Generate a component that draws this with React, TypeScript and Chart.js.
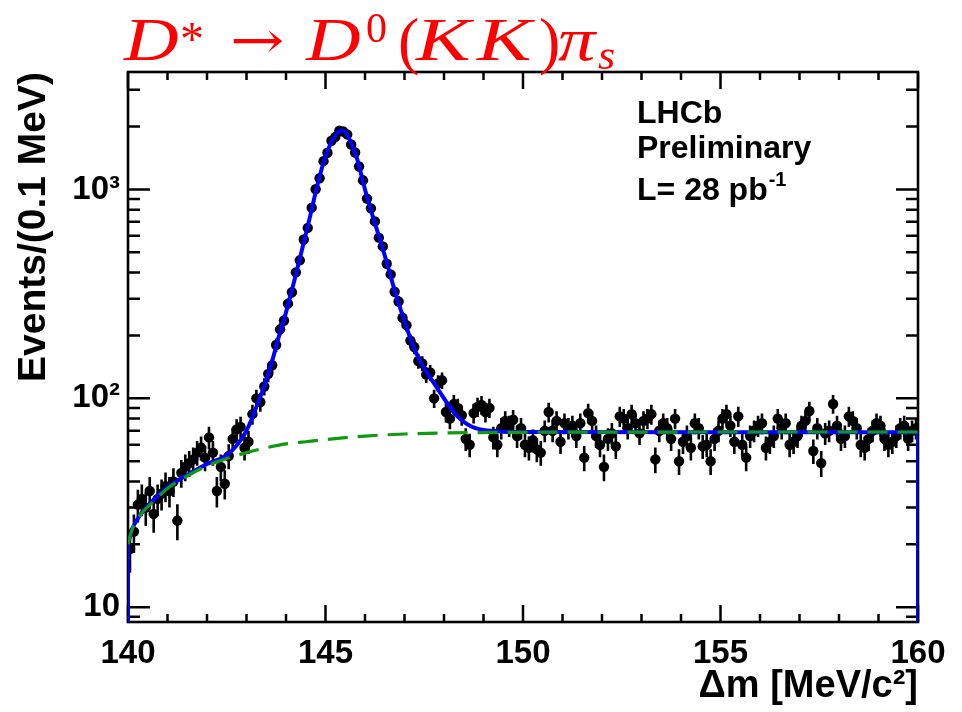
import React, { useEffect, useRef } from 'react';
import { Chart, registerables } from 'chart.js';

Chart.register(...registerables);

// ---------------- data ----------------
const X_MIN = 140;
const X_MAX = 160;
const BIN_WIDTH = 0.1;
const Y_MIN = 8.5;
const Y_MAX = 3650;

// events per 0.1 MeV bin
const COUNTS_140_145 = [
  19, 23, 31, 33, 30, 36, 28, 33, 35, 38,
  36, 40, 26, 44, 47, 49, 51, 55, 58, 52,
  65, 55, 36, 47, 39, 53, 64, 71, 73, 58,
  62, 84, 100, 96, 114, 131, 144, 180, 214, 236,
  284, 322, 401, 458, 576, 655, 818, 1002, 1132, 1366,
];
const COUNTS_145_150 = [
  1498, 1710, 1786, 1912, 1893, 1834, 1642, 1503, 1288, 1106,
  904, 812, 703, 588, 534, 441, 392, 324, 291, 243,
  224, 189, 176, 151, 147, 130, 133, 100, 118, 122,
  86, 80, 94, 90, 83, 64, 60, 85, 91, 93,
  86, 90, 65, 60, 72, 78, 74, 79, 66, 72,
];
const COUNTS_150_155 = [
  60, 58, 63, 57, 55, 70, 86, 70, 78, 62,
  76, 72, 74, 66, 76, 52, 85, 78, 66, 60,
  47, 64, 68, 59, 82, 80, 72, 84, 76, 68,
  78, 80, 84, 51, 70, 76, 72, 64, 80, 50,
  62, 66, 58, 76, 72, 59, 60, 50, 64, 70,
];
const COUNTS_155_160 = [
  80, 84, 74, 62, 82, 60, 52, 66, 70, 74,
  76, 58, 62, 66, 80, 72, 76, 60, 62, 66,
  74, 78, 87, 56, 72, 49, 68, 70, 94, 74,
  64, 66, 82, 78, 72, 60, 58, 64, 70, 76,
  74, 64, 60, 62, 66, 72, 74, 64, 70, 72,
];
const COUNTS = [...COUNTS_140_145, ...COUNTS_145_150, ...COUNTS_150_155, ...COUNTS_155_160];
const BIN_CENTERS = COUNTS.map((_, i) => +(X_MIN + BIN_WIDTH * (i + 0.5)).toFixed(2));

// total fit (blue)
const FIT_X = [
  140.0, 140.1, 140.3, 140.6, 141.0, 141.5, 142.0, 142.5, 142.75, 143.0,
  143.2, 143.4, 143.6, 143.8, 144.0, 144.2, 144.4, 144.6, 144.8, 145.0,
  145.2, 145.4, 145.5, 145.6, 145.8, 146.0, 146.2, 146.4, 146.6, 146.8,
  147.0, 147.2, 147.4, 147.6, 147.8, 148.0, 148.2, 148.4, 148.6, 148.8,
  149.0, 149.5, 150.0, 155.0, 160.0,
];
const FIT_Y = [
  20, 23.5, 27.5, 32, 37.5, 43, 48.5, 53.5, 59.5, 70,
  86, 108, 140, 192, 258, 360, 510, 730, 1060, 1440,
  1750, 1920, 1880, 1750, 1400, 1000, 740, 560, 415, 305,
  235, 182, 150, 130, 114, 100, 88, 80, 75, 72,
  70.5, 69.3, 69, 68.8, 68.8,
];

// background component (green dashed)
const BKG_X = [140.0, 140.1, 140.3, 140.6, 141.0, 141.5, 142.0, 142.5, 143.0, 143.5, 144.0, 144.5, 145.0, 146.0, 147.0, 148.0, 150.0, 155.0, 160.0];
const BKG_Y = [20, 23.5, 27.5, 31.5, 37, 42.5, 47.5, 51.5, 55, 58, 60.5, 62, 63.5, 66, 67.5, 68.3, 68.8, 69, 69];

const X_TICKS = [140, 145, 150, 155, 160];
const X_TICK_LABELS = ['140', '145', '150', '155', '160'];
const Y_TICKS = [10, 100, 1000];
const Y_TICK_LABELS = ['10', '10\u00B2', '10\u00B3'];

const TITLE_Y = 'Events/(0.1 MeV)';
const TITLE_X = '\u0394m [MeV/c\u00B2]';
const INFO_LINES = ['LHCb', 'Preliminary', 'L= 28 pb'];
const INFO_SUP = '-1';

// ---------------- styles ----------------
const SANS = '"Liberation Sans", Arial, Helvetica, sans-serif';
const SERIF = '"Liberation Serif", "DejaVu Serif", serif';
const DSERIF = '"DejaVu Serif", "Liberation Serif", serif';
const BLUE = '#0000ff';
const GREEN = '#109a10';
const RED = '#ff0000';

const TITLE_SEGMENTS = [
  { t: 'D', x: 124, size: 62, italic: true, dy: 0, sx: 1.22, fam: SERIF },
  { t: '*', x: 180, size: 48, italic: false, dy: -5, sx: 1, fam: SERIF },
  { t: '\u2192', x: 230, size: 52, italic: false, dy: -2, sx: 1.25, fam: DSERIF },
  { t: 'D', x: 306, size: 62, italic: true, dy: 0, sx: 1.22, fam: SERIF },
  { t: '0', x: 366, size: 42, italic: false, dy: -18, sx: 1, fam: SERIF },
  { t: '(', x: 398, size: 64, italic: false, dy: 2, sx: 1, fam: SERIF },
  { t: 'K', x: 416, size: 62, italic: true, dy: 0, sx: 1.32, fam: SERIF },
  { t: 'K', x: 477, size: 62, italic: true, dy: 0, sx: 1.32, fam: SERIF },
  { t: ')', x: 539, size: 64, italic: false, dy: 2, sx: 1, fam: SERIF },
  { t: '\u03C0', x: 558, size: 62, italic: true, dy: 0, sx: 1.2, fam: SERIF },
  { t: 's', x: 598, size: 42, italic: true, dy: 9, sx: 1.05, fam: SERIF },
];

const rootPlugin = {
  id: 'rootStyle',
  beforeDatasetsDraw(chart: any) {
    const { ctx, chartArea: a, scales } = chart;
    const x = scales.x;
    const y = scales.y;
    ctx.save();
    // frame
    ctx.strokeStyle = '#000';
    ctx.lineWidth = 2.6;
    ctx.strokeRect(a.left, a.top, a.right - a.left, a.bottom - a.top);
    // ticks
    ctx.lineWidth = 2.5;
    ctx.beginPath();
    for (let v = X_MIN; v <= X_MAX; v++) {
      const len = v % 5 === 0 ? 17 : 8;
      const px = x.getPixelForValue(v);
      ctx.moveTo(px, a.bottom);
      ctx.lineTo(px, a.bottom - len);
      ctx.moveTo(px, a.top);
      ctx.lineTo(px, a.top + len);
    }
    for (const dec of [1, 10, 100, 1000]) {
      for (let m = 1; m <= 9; m++) {
        const v = m * dec;
        if (v < Y_MIN || v > Y_MAX) continue;
        const len = m === 1 ? 22 : 12;
        const py = y.getPixelForValue(v);
        ctx.moveTo(a.left, py);
        ctx.lineTo(a.left + len, py);
        ctx.moveTo(a.right, py);
        ctx.lineTo(a.right - len, py);
      }
    }
    ctx.stroke();
    // error bars
    ctx.beginPath();
    ctx.rect(a.left, a.top, a.right - a.left, a.bottom - a.top);
    ctx.clip();
    ctx.lineWidth = 2.6;
    ctx.beginPath();
    COUNTS.forEach((n, i) => {
      const px = x.getPixelForValue(BIN_CENTERS[i]);
      const e = Math.sqrt(n);
      ctx.moveTo(px, y.getPixelForValue(n + e));
      ctx.lineTo(px, y.getPixelForValue(Math.max(n - e, 1)));
    });
    ctx.stroke();
    ctx.restore();
  },
  afterDraw(chart: any) {
    const { ctx } = chart;
    ctx.save();
    // red title
    ctx.fillStyle = RED;
    ctx.textBaseline = 'alphabetic';
    ctx.textAlign = 'left';
    for (const s of TITLE_SEGMENTS) {
      ctx.save();
      ctx.font = `${s.italic ? 'italic ' : ''}${s.size}px ${s.fam}`;
      ctx.translate(s.x, 60 + s.dy);
      ctx.scale(s.sx, 1);
      ctx.fillText(s.t, 0, 0);
      ctx.restore();
    }
    // experiment info
    ctx.fillStyle = '#000';
    ctx.font = `bold 32px ${SANS}`;
    const bx = 637;
    const baselines = [123, 158, 200];
    INFO_LINES.forEach((t, i) => ctx.fillText(t, bx, baselines[i]));
    const w = ctx.measureText(INFO_LINES[2]).width;
    ctx.font = `bold 20px ${SANS}`;
    ctx.fillText(INFO_SUP, bx + w + 1, baselines[2] - 14);
    ctx.restore();
  },
};

export default function App() {
  const ref = useRef<HTMLCanvasElement>(null);
  useEffect(() => {
    if (!ref.current) return;
    const chart = new Chart(ref.current, {
      type: 'scatter',
      data: {
        datasets: [
          {
            label: 'Data',
            data: COUNTS.map((c, i) => ({ x: BIN_CENTERS[i], y: c })),
            showLine: false,
            pointRadius: 5.2,
            pointBackgroundColor: '#000',
            pointBorderWidth: 0,
            order: 3,
          },
          {
            label: 'Fit',
            data: FIT_X.map((v, i) => ({ x: v, y: FIT_Y[i] })),
            showLine: true,
            borderColor: BLUE,
            borderWidth: 4,
            pointRadius: 0,
            cubicInterpolationMode: 'monotone',
            fill: false,
            order: 2,
          },
          {
            label: 'Fit edge low',
            data: [{ x: X_MIN, y: Y_MIN }, { x: X_MIN, y: FIT_Y[0] }],
            showLine: true,
            borderColor: BLUE,
            borderWidth: 4,
            pointRadius: 0,
            order: 2,
          },
          {
            label: 'Fit edge high',
            data: [{ x: X_MAX, y: FIT_Y[FIT_Y.length - 1] }, { x: X_MAX, y: Y_MIN }],
            showLine: true,
            borderColor: BLUE,
            borderWidth: 4,
            pointRadius: 0,
            order: 2,
          },
          {
            label: 'Background',
            data: BKG_X.map((v, i) => ({ x: v, y: BKG_Y[i] })),
            showLine: true,
            borderColor: GREEN,
            borderWidth: 3.2,
            borderDash: [20, 10],
            pointRadius: 0,
            cubicInterpolationMode: 'monotone',
            fill: false,
            order: 1,
          },
        ],
      },
      options: {
        responsive: false,
        animation: false,
        events: [],
        layout: { padding: { left: 0, right: 44, top: 72, bottom: 0 } },
        plugins: {
          legend: { display: false },
          tooltip: { enabled: false },
          title: { display: false },
        },
        scales: {
          x: {
            type: 'linear',
            min: X_MIN,
            max: X_MAX,
            position: 'bottom',
            afterFit: (s: any) => { s.height = 90; },
            afterBuildTicks: (s: any) => { s.ticks = X_TICKS.map((v) => ({ value: v })); },
            grid: { display: false, drawTicks: false },
            border: { display: false },
            ticks: {
              font: { family: SANS, size: 33, weight: 'bold' },
              color: '#000',
              padding: 12,
              maxRotation: 0,
              autoSkip: false,
              callback: (v: any) => {
                const i = X_TICKS.indexOf(Number(v));
                return i >= 0 ? X_TICK_LABELS[i] : '';
              },
            },
            title: {
              display: true,
              text: TITLE_X,
              align: 'end',
              color: '#000',
              font: { family: SANS, size: 38, weight: 'bold' },
              padding: { top: 0, bottom: 3 },
            },
          },
          y: {
            type: 'logarithmic',
            min: Y_MIN,
            max: Y_MAX,
            position: 'left',
            afterFit: (s: any) => { s.width = 128; },
            afterBuildTicks: (s: any) => { s.ticks = Y_TICKS.map((v) => ({ value: v })); },
            grid: { display: false, drawTicks: false },
            border: { display: false },
            ticks: {
              font: { family: SANS, size: 33, weight: 'bold' },
              color: '#000',
              padding: 8,
              autoSkip: false,
              callback: (v: any) => {
                const i = Y_TICKS.findIndex((t) => Math.abs(t - Number(v)) < 1e-6);
                return i >= 0 ? Y_TICK_LABELS[i] : '';
              },
            },
            title: {
              display: true,
              text: TITLE_Y,
              align: 'end',
              color: '#000',
              font: { family: SANS, size: 39, weight: 'bold' },
              padding: { top: 11, bottom: 0 },
            },
          },
        },
      } as any,
      plugins: [rootPlugin],
    });
    return () => chart.destroy();
  }, []);
  return (
    <div style={{ position: 'fixed', left: 0, top: 0, width: 962, height: 712, background: '#fff' }}>
      <canvas ref={ref} width={962} height={712} style={{ display: 'block', width: 962, height: 712 }} />
    </div>
  );
}
